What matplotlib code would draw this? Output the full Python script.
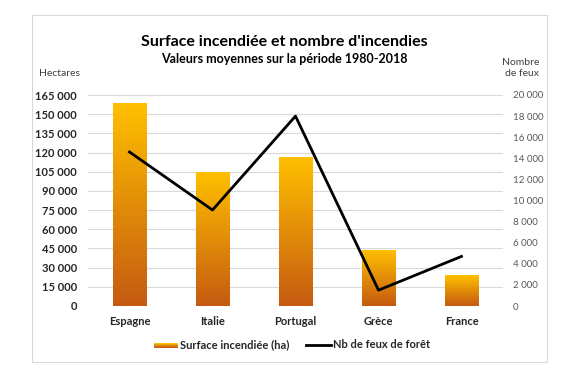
import numpy as np
import matplotlib
matplotlib.use("Agg")
import matplotlib.pyplot as plt
from matplotlib.patches import Rectangle
from matplotlib.legend_handler import HandlerBase
from matplotlib.colors import LinearSegmentedColormap
from matplotlib.lines import Line2D
from matplotlib.ticker import FuncFormatter

plt.rcParams['font.family'] = ['Lato', 'DejaVu Sans']

# data
pays = ["Espagne", "Italie", "Portugal", "Grèce", "France"]
surface_ha = [158500, 104800, 116500, 43800, 24200]
nb_feux = [14600, 9100, 18000, 1500, 4700]

gold = "#FFC000"
rust = "#C55A11"
cmap = LinearSegmentedColormap.from_list("grad", [rust, gold])

def fmt_sp(v, pos):
    return f"{int(v):,}".replace(",", " ")

fig = plt.figure(figsize=(5.69, 3.75), dpi=100)
fig.patch.set_facecolor("white")

# chart frame
fig.add_artist(Rectangle((32/569, 1-362/375), (547-32)/569, (362-15)/375,
                         transform=fig.transFigure, fill=False,
                         edgecolor="#D9D9D9", linewidth=0.8))

ax = fig.add_axes([88/569, 1-306/375, (503-88)/569, (306-95)/375])
x = np.arange(len(pays))
bars = ax.bar(x, surface_ha, width=0.4, color="none", zorder=2)
grad = np.linspace(0, 1, 256).reshape(-1, 1)
# each bar: gradient from rust (bottom) to gold (its own top)
for b in bars:
    bx, w, h = b.get_x(), b.get_width(), b.get_height()
    im = ax.imshow(grad, cmap=cmap, origin="lower", aspect="auto",
                   extent=[bx, bx + w, 0, h], zorder=2)
    im.set_clip_path(b)

ax.set_xlim(-0.5, len(pays) - 0.5)
ax.set_ylim(0, 165000)
ax.set_yticks(np.arange(0, 165001, 15000))
ax.yaxis.set_major_formatter(FuncFormatter(fmt_sp))
ax.grid(axis="y", color="#D9D9D9", linewidth=0.8, zorder=0)
ax.set_axisbelow(True)
for s in ax.spines.values():
    s.set_visible(False)
ax.tick_params(axis="both", length=0)
ax.tick_params(axis="y", pad=8, labelsize=8)
ax.tick_params(axis="x", pad=7, labelsize=8)
ax.set_xticks(x)
ax.set_xticklabels(pays, fontweight="bold", color="#262626")
for t in ax.get_yticklabels():
    t.set_fontweight("bold")
    t.set_color("#262626")

ax2 = ax.twinx()
ax2.plot(x, nb_feux, color="black", linewidth=2, zorder=3)
ax2.set_ylim(0, 20000)
ax2.set_yticks(np.arange(0, 20001, 2000))
ax2.yaxis.set_major_formatter(FuncFormatter(fmt_sp))
for s in ax2.spines.values():
    s.set_visible(False)
ax2.tick_params(axis="y", length=0, pad=7, labelsize=7, labelcolor="#595959")

# titles
fig.text(0.5, 1-42/375, "Surface incendiée et nombre d'incendies", ha="center",
         va="center", fontsize=11.5, fontweight="bold", color="black")
fig.text(0.5, 1-59/375, "Valeurs moyennes sur la période 1980-2018", ha="center",
         va="center", fontsize=9, fontweight="bold", color="black")
fig.text(59/569, 1-73/375, "Hectares", ha="center", va="center", fontsize=7.5,
         color="#404040")
fig.text(539/569, 1-68/375, "Nombre\nde feux", ha="right", va="center",
         fontsize=7.5, color="#404040", linespacing=1.4)


class GradHandler(HandlerBase):
    def create_artists(self, legend, orig, xd, yd, width, height, fontsize, trans):
        arts = []
        n = 8
        h = height * 0.7
        y0 = yd + height * 0.15
        for i in range(n):
            arts.append(Rectangle((xd, y0 + h * i / n), width, h / n + 0.1,
                                  facecolor=cmap(i / (n - 1)), edgecolor="none",
                                  transform=trans))
        return arts


bar_handle = Rectangle((0, 0), 1, 1)
line_handle = Line2D([0], [0], color="black", linewidth=2)
leg = fig.legend([bar_handle, line_handle],
                 ["Surface incendiée (ha)", "Nb de feux de forêt"],
                 handler_map={bar_handle: GradHandler()},
                 loc="center", bbox_to_anchor=(292/569, 1-345/375), ncol=2,
                 frameon=False, fontsize=8, handlelength=2.2, handletextpad=0.2,
                 columnspacing=1.5, handleheight=0.6)
for t in leg.get_texts():
    t.set_fontweight("bold")
    t.set_color("#262626")

fig.savefig("out.png", dpi=100)
